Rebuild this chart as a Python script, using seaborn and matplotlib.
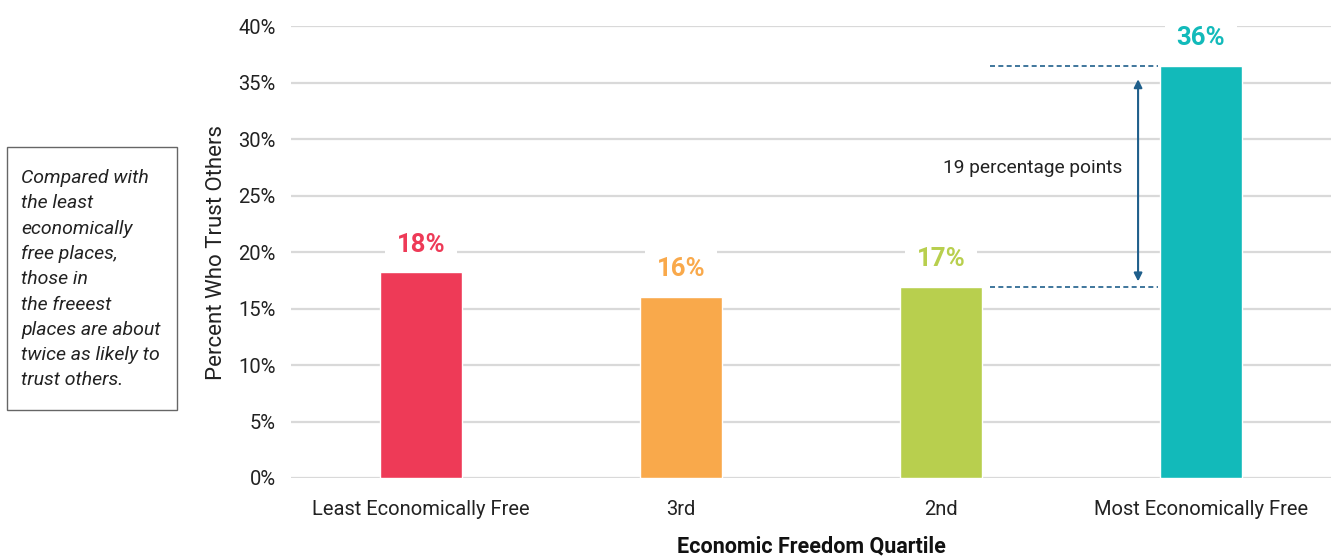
import matplotlib
matplotlib.use('Agg')
import matplotlib.pyplot as plt
import seaborn as sns
import pandas as pd

# Data
quartiles = ['Least Economically Free', '3rd', '2nd', 'Most Economically Free']
trust_pct = [18.2, 16.0, 16.9, 36.5]
value_labels = ['18%', '16%', '17%', '36%']
bar_colors = ['#EE3A57', '#F9A94B', '#B8CF4E', '#12BABA']
y_ticks = [0, 5, 10, 15, 20, 25, 30, 35, 40]

df = pd.DataFrame({'quartile': quartiles, 'pct': trust_pct})

sns.set_style('white')
plt.rcParams['font.family'] = ['Roboto', 'DejaVu Sans']

fig = plt.figure(figsize=(13.31, 5.56), dpi=100)
ax = fig.add_axes([0.2186, 0.1403, 0.7814, 0.8127])

sns.barplot(data=df, x='quartile', y='pct', hue='quartile', palette=bar_colors,
            legend=False, width=0.315, ax=ax, zorder=3, saturation=1)

ax.set_xlim(-0.5, 3.5)
ax.set_ylim(0, 40)
ax.set_yticks(y_ticks)
ax.set_yticklabels([f'{t}%' for t in y_ticks], fontsize=14.5, color='#222222')
ax.tick_params(axis='x', labelsize=14.5, colors='#222222', pad=16, length=0)
ax.tick_params(axis='y', length=0, pad=11)
ax.grid(axis='y', color='#d9d9d9', linewidth=1.6, zorder=0)
ax.set_axisbelow(True)
sns.despine(ax=ax, left=True, bottom=True, top=True, right=True)

ax.set_ylabel('Percent Who Trust Others', fontsize=16, color='#222222', labelpad=8)
ax.set_xlabel('Economic Freedom Quartile', fontsize=15.5, fontweight='bold',
              color='#111111', labelpad=12)

# value labels above bars
for i, (v, lab, c) in enumerate(zip(trust_pct, value_labels, bar_colors)):
    ax.annotate(lab, xy=(i, v), xytext=(0, 20), textcoords='offset points',
                ha='center', va='center', fontsize=18.5, fontweight='bold', color=c,
                bbox=dict(boxstyle='square,pad=0.45', fc='white', ec='none'), zorder=4)

# difference annotation
arrow_col = '#1F5F8B'
ax.hlines([trust_pct[3], trust_pct[2]], 2.19, 2.835, colors=arrow_col,
          linestyles=(0, (3, 2)), linewidth=1.2, zorder=4)
ax.annotate('', xy=(2.758, 17.4), xytext=(2.758, 35.3),
            arrowprops=dict(arrowstyle='<|-|>', color=arrow_col, lw=1.5,
                            mutation_scale=12, shrinkA=0, shrinkB=0), zorder=4)
ax.text(2.354, 27.4, '19 percentage points', ha='center', va='center',
        fontsize=13.8, color='#222222',
        bbox=dict(boxstyle='square,pad=0.3', fc='white', ec='none'), zorder=4)

# side note box
note = ('Compared with\nthe least\neconomically\nfree places,\nthose in\n'
        'the freeest\nplaces are about\ntwice as likely to\ntrust others.')
box = plt.Rectangle((7 / 1331, 1 - 410 / 556), 170 / 1331, 263 / 556,
                    transform=fig.transFigure, fill=False, ec='#666666', lw=1)
fig.add_artist(box)
fig.text(21 / 1331, 1 - 169 / 556, note, ha='left', va='top', fontsize=14,
         style='italic', color='#222222', linespacing=1.52)

fig.savefig('out.png', dpi=100)
